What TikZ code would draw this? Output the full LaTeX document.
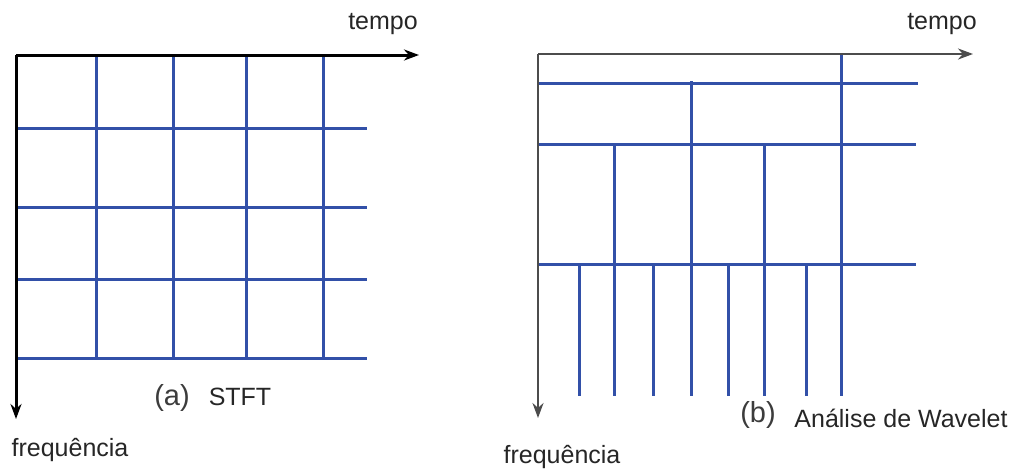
\documentclass[tikz,border=0pt]{standalone}
\usepackage{fontspec}
\setmainfont{Liberation Sans}
\usetikzlibrary{arrows.meta}
\definecolor{gridblue}{RGB}{50,80,168}
\definecolor{labelgray}{RGB}{60,60,60}
\tikzset{
  gridline/.style={draw=gridblue, line width=3pt},
  axisA/.style={draw=black, line width=3pt, -{Stealth[length=15pt,width=11pt]}},
  axisB/.style={draw=black!70, line width=2.2pt, -{Stealth[length=15pt,width=11pt]}},
  lbl/.style={inner sep=0pt, font=\fontsize{25}{29}\selectfont, text=black!85},
  sub/.style={inner sep=0pt, font=\fontsize{29}{33}\selectfont, text=labelgray},
}
\begin{document}
\begin{tikzpicture}[x=1pt,y=-1pt]
\useasboundingbox (0,0) rectangle (1014,469);
% ---------- (a) STFT ----------
\coordinate (oa) at (16,55);
\coordinate (ta) at (419,55);
\coordinate (fa) at (16,419);
\foreach \y in {128,207,279,358}
  \draw[gridline] (16,\y) -- (367,\y);
\foreach \x in {96,173,246,323}
  \draw[gridline] (\x,55) -- (\x,358);
\draw[axisA] (oa) -- (ta);
\draw[axisA] (oa) -- (fa);
\node[lbl] (tempoA) at (383,24) {tempo};
\node[lbl] (freqA) at (70,450) {frequência};
\node[sub] (subA) at (172,398) {(a)};
\node[lbl] (stft) at (240,397) {STFT};
% ---------- (b) Wavelet ----------
\coordinate (ob) at (538,54);
\coordinate (tb) at (973,54);
\coordinate (fb) at (538,418);
\draw[gridline] (538,83) -- (918,83);
\draw[gridline] (538,144) -- (916,144);
\draw[gridline] (538,264) -- (916,264);
\draw[gridline] (841,54) -- (841,396);
\draw[gridline] (691,81) -- (691,396);
\foreach \x in {614,764}
  \draw[gridline] (\x,144) -- (\x,396);
\foreach \x in {579,653,728,806}
  \draw[gridline] (\x,264) -- (\x,396);
\draw[axisB] (ob) -- (tb);
\draw[axisB] (ob) -- (fb);
\node[lbl] (tempoB) at (942,24) {tempo};
\node[lbl] (freqB) at (562,457) {frequência};
\node[sub] (subB) at (758,415) {(b)};
\node[lbl] (wav) at (901,418) {Análise de Wavelet};
\end{tikzpicture}
\end{document}
